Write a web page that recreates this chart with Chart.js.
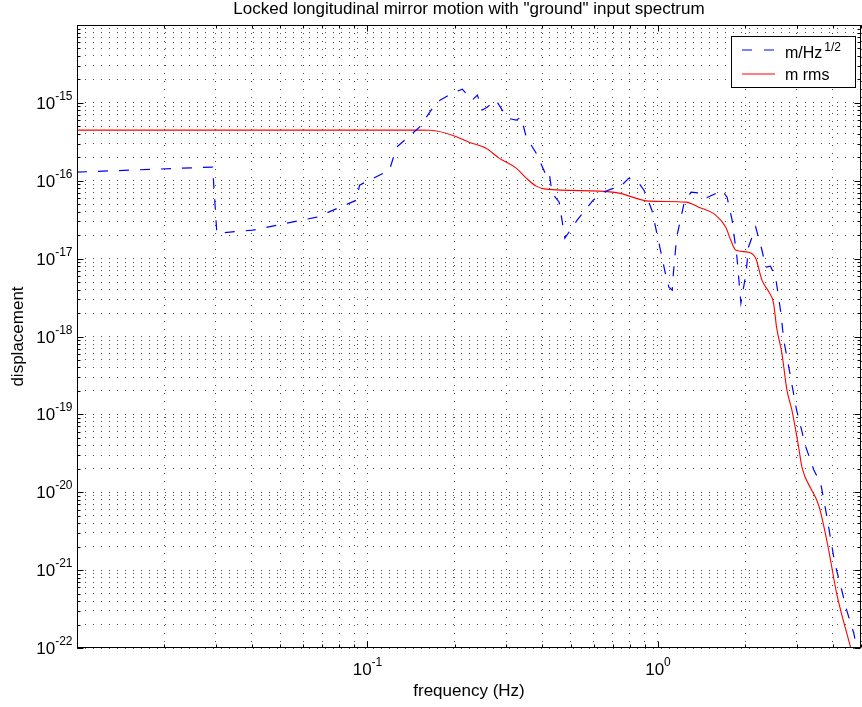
<!DOCTYPE html>
<html>
<head>
<meta charset="utf-8">
<script src="https://cdn.jsdelivr.net/npm/chart.js@4/dist/chart.umd.min.js"></script>
<style>
  html, body { margin: 0; padding: 0; background: #fff; }
  #wrap { width: 862px; height: 707px; }
</style>
</head>
<body>
<div id="wrap"><canvas id="psdChart" width="862" height="707"></canvas></div>
<script>
// m/Hz^1/2 curve (blue dashed)
const asdFreq = [0.01, 0.0293, 0.0303, 0.0403, 0.0669, 0.0917, 0.0939, 0.119, 0.126, 0.151,
  0.173, 0.196, 0.212, 0.229, 0.239, 0.248, 0.258, 0.277, 0.303, 0.325,
  0.338, 0.352, 0.381, 0.412, 0.422, 0.432, 0.457, 0.478, 0.527, 0.598,
  0.648, 0.751, 0.794, 0.860, 0.895, 0.953, 1.02, 1.06, 1.09, 1.12,
  1.13, 1.16, 1.23, 1.30, 1.41, 1.46, 1.59, 1.66, 1.73, 1.80,
  1.87, 1.93, 2.01, 2.05, 2.17, 2.28, 2.35, 2.44, 2.54, 2.65,
  2.71, 2.82, 3.00, 3.23, 3.44, 3.63, 3.78, 4.06, 4.29, 4.46,
  4.72, 4.83];
const asdVal = [1.29e-16, 1.50e-16, 2.12e-17, 2.32e-17, 3.41e-17, 5.63e-17, 8.79e-17, 1.37e-16, 2.70e-16, 4.87e-16,
  1.02e-15, 1.33e-15, 1.50e-15, 1.08e-15, 1.26e-15, 8.06e-16, 8.81e-16, 1.08e-15, 6.37e-16, 6.00e-16,
  6.55e-16, 3.63e-16, 2.26e-16, 1.18e-16, 1.29e-16, 6.93e-17, 5.31e-17, 1.83e-17, 3.12e-17, 5.63e-17,
  7.14e-17, 8.79e-17, 1.08e-16, 9.31e-17, 7.57e-17, 4.19e-17, 1.29e-17, 6.52e-18, 4.31e-18, 3.94e-18,
  6.52e-18, 1.89e-17, 5.15e-17, 7.14e-17, 6.93e-17, 5.98e-17, 6.93e-17, 7.57e-17, 6.15e-17, 3.12e-17,
  1.04e-17, 2.68e-18, 6.52e-18, 1.41e-17, 2.54e-17, 1.29e-17, 7.78e-18, 8.01e-18, 5.80e-18, 2.00e-18,
  9.00e-19, 4.05e-19, 1.14e-19, 3.80e-20, 1.93e-20, 1.31e-20, 5.91e-21, 1.24e-21, 5.56e-22, 3.08e-22,
  1.56e-22, 1.03e-22];

// m rms curve (red)
const rmsFreq = [0.01, 0.151, 0.165, 0.196, 0.224, 0.256, 0.284, 0.325, 0.352, 0.381,
  0.412, 0.627, 0.734, 0.931, 1.25, 1.38, 1.58, 1.71, 1.78, 1.85,
  2.05, 2.17, 2.28, 2.41, 2.50, 2.56, 2.67, 2.78, 2.89, 3.05,
  3.13, 3.38, 3.52, 3.63, 3.87, 4.12, 4.60];
const rmsVal = [4.47e-16, 4.47e-16, 4.45e-16, 3.85e-16, 3.13e-16, 2.62e-16, 1.95e-16, 1.45e-16, 1.08e-16, 8.53e-17,
  7.80e-17, 7.36e-17, 6.94e-17, 5.47e-17, 5.31e-17, 4.58e-17, 3.62e-17, 2.54e-17, 1.73e-17, 1.29e-17,
  1.21e-17, 1.01e-17, 5.30e-18, 3.72e-18, 2.69e-18, 1.32e-18, 6.12e-19, 2.05e-19, 1.14e-19, 3.80e-20,
  2.10e-20, 1.07e-20, 7.94e-21, 5.57e-21, 1.81e-21, 5.08e-22, 1.03e-22];

// labelled decades (10^n)
const xDecades = [-1, 0];
const yDecades = [-22, -21, -20, -19, -18, -17, -16, -15];
const xRange = [0.01, 5];
const yRange = [1e-22, 1e-14];

const FONT = '"Liberation Sans", Arial, Helvetica, sans-serif';

// 1..9 x 10^n positions for the dotted grid
function gridValues(lo, hi) {
  const vals = [];
  for (let e = Math.floor(Math.log10(lo)); e <= Math.ceil(Math.log10(hi)); e++) {
    for (let k = 1; k <= 9; k++) {
      const v = k * Math.pow(10, e);
      if (v >= lo * 0.999 && v <= hi * 1.001) vals.push(v);
    }
  }
  return vals;
}
const isDecade = v => Math.abs(Math.log10(v) - Math.round(Math.log10(v))) < 1e-6;

function powLabel(ctx, exp, x, y, align) {
  const base = '10', sup = String(exp);
  ctx.font = '17px ' + FONT;
  const wb = ctx.measureText(base).width;
  ctx.font = '12px ' + FONT;
  const ws = ctx.measureText(sup).width;
  const x0 = align === 'right' ? x - wb - ws : x - (wb + ws) / 2;
  ctx.font = '17px ' + FONT;
  ctx.fillText(base, x0, y);
  ctx.font = '12px ' + FONT;
  ctx.fillText(sup, x0 + wb, y - 9);
}

const decorations = {
  id: 'decorations',
  afterDraw(chart) {
    const { ctx, chartArea: a, scales: { x, y } } = chart;
    const L = Math.round(a.left) + 0.5, R = Math.round(a.right) - 0.5;
    const T = Math.round(a.top) + 0.5, B = Math.round(a.bottom) - 0.5;
    ctx.save();
    ctx.strokeStyle = '#000';
    ctx.lineWidth = 1;
    ctx.setLineDash([]);
    ctx.beginPath();
    // inner tick marks on all four sides
    x.ticks.forEach(t => {
      const px = Math.round(x.getPixelForValue(t.value)) + 0.5;
      const len = isDecade(t.value) ? 6 : 3;
      ctx.moveTo(px, B); ctx.lineTo(px, B - len);
      ctx.moveTo(px, T); ctx.lineTo(px, T + len);
    });
    y.ticks.forEach(t => {
      const py = Math.round(y.getPixelForValue(t.value)) + 0.5;
      const len = isDecade(t.value) ? 6 : 3;
      ctx.moveTo(L, py); ctx.lineTo(L + len, py);
      ctx.moveTo(R, py); ctx.lineTo(R - len, py);
    });
    ctx.stroke();
    ctx.strokeRect(L, T, R - L, B - T);

    // tick labels
    ctx.fillStyle = '#000';
    ctx.textAlign = 'left';
    ctx.textBaseline = 'alphabetic';
    xDecades.forEach(e => powLabel(ctx, e, x.getPixelForValue(Math.pow(10, e)), B + 27, 'center'));
    yDecades.forEach(e => powLabel(ctx, e, L - 5, y.getPixelForValue(Math.pow(10, e)) + 6, 'right'));

    // title and axis titles
    ctx.textAlign = 'center';
    ctx.font = '17px ' + FONT;
    ctx.fillText('Locked longitudinal mirror motion with "ground" input spectrum', (a.left + a.right) / 2, 14);
    ctx.fillText('frequency (Hz)', (a.left + a.right) / 2, 696);
    ctx.save();
    ctx.translate(23, (a.top + a.bottom) / 2);
    ctx.rotate(-Math.PI / 2);
    ctx.fillText('displacement', 0, 0);
    ctx.restore();

    // legend box
    const bx = 731.5, by = 36.5, bw = 124, bh = 51;
    ctx.fillStyle = '#fff';
    ctx.fillRect(bx, by, bw, bh);
    ctx.strokeStyle = '#000';
    ctx.strokeRect(bx, by, bw, bh);
    const ds = chart.data.datasets;
    ctx.lineWidth = 1.2;
    ctx.strokeStyle = ds[0].borderColor;
    ctx.setLineDash([10, 12]);
    ctx.beginPath(); ctx.moveTo(742, 50); ctx.lineTo(774, 50); ctx.stroke();
    ctx.strokeStyle = ds[1].borderColor;
    ctx.setLineDash([]);
    ctx.beginPath(); ctx.moveTo(742, 74); ctx.lineTo(775, 74); ctx.stroke();
    ctx.fillStyle = '#000';
    ctx.textAlign = 'left';
    ctx.font = '16px ' + FONT;
    ctx.fillText('m/Hz', 785, 58);
    const w = ctx.measureText('m/Hz').width;
    ctx.font = '12px ' + FONT;
    ctx.fillText('1/2', 785 + w + 2, 51);
    ctx.font = '16px ' + FONT;
    ctx.fillText('m rms', 785, 80);
    ctx.restore();
  }
};

const xGrid = gridValues(xRange[0], xRange[1]);
const yGrid = gridValues(yRange[0], yRange[1]);

new Chart(document.getElementById('psdChart'), {
  type: 'scatter',
  data: {
    datasets: [{
      label: 'm/Hz^1/2',
      data: asdFreq.map((f, i) => ({ x: f, y: asdVal[i] })),
      showLine: true,
      borderColor: '#0000ff',
      borderWidth: 1.2,
      borderDash: [10, 11],
      pointRadius: 0,
      tension: 0
    }, {
      label: 'm rms',
      data: rmsFreq.map((f, i) => ({ x: f, y: rmsVal[i] })),
      showLine: true,
      borderColor: '#ff0000',
      borderWidth: 1.1,
      pointRadius: 0,
      cubicInterpolationMode: 'monotone'
    }]
  },
  options: {
    responsive: false,
    animation: false,
    layout: { padding: { top: 25, left: 0, right: 1, bottom: 0 } },
    plugins: {
      legend: { display: false },
      tooltip: { enabled: false },
      title: { display: false }
    },
    scales: {
      x: {
        type: 'logarithmic',
        min: xRange[0],
        max: xRange[1],
        afterBuildTicks: s => { s.ticks = xGrid.map(v => ({ value: v })); },
        afterFit: s => { s.height = 59; },
        ticks: { display: false },
        grid: { color: 'rgba(0,0,0,0.7)', lineWidth: 1, drawTicks: false },
        border: { display: false, dash: [1, 7] }
      },
      y: {
        type: 'logarithmic',
        min: yRange[0],
        max: yRange[1],
        afterBuildTicks: s => { s.ticks = yGrid.map(v => ({ value: v })); },
        afterFit: s => { s.width = 77; },
        ticks: { display: false },
        grid: { color: 'rgba(0,0,0,0.7)', lineWidth: 1, drawTicks: false },
        border: { display: false, dash: [1, 7] }
      }
    }
  },
  plugins: [decorations]
});
</script>
</body>
</html>
